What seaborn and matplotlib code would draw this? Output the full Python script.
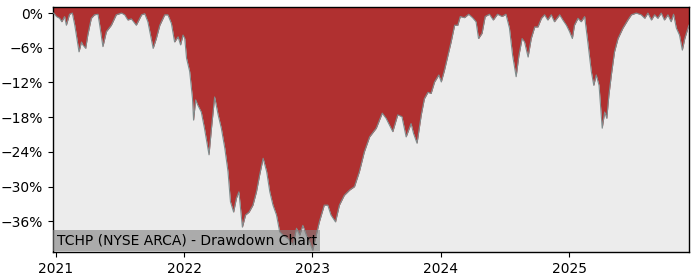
import matplotlib
matplotlib.use("Agg")
import matplotlib.pyplot as plt
import matplotlib.ticker as mticker
import seaborn as sns
import pandas as pd

dates = [
    "2020-12-24", "2020-12-26", "2021-01-03", "2021-01-12", "2021-01-18", "2021-01-26", "2021-01-31",
    "2021-02-09", "2021-02-17", "2021-02-24", "2021-03-08", "2021-03-15", "2021-03-19", "2021-03-27",
    "2021-04-02", "2021-04-12", "2021-04-21", "2021-05-01", "2021-05-06", "2021-05-15", "2021-05-25",
    "2021-06-08", "2021-06-22", "2021-07-07", "2021-07-16", "2021-07-25", "2021-08-04", "2021-08-18",
    "2021-09-02", "2021-09-11", "2021-09-20", "2021-10-05", "2021-10-14", "2021-10-24", "2021-11-07",
    "2021-11-16", "2021-11-26", "2021-12-05", "2021-12-15", "2021-12-22", "2021-12-29", "2022-01-03",
    "2022-01-08", "2022-01-17", "2022-01-25", "2022-01-28", "2022-02-03", "2022-02-09", "2022-02-19",
    "2022-02-28", "2022-03-13", "2022-03-20", "2022-03-29", "2022-04-08", "2022-04-17", "2022-04-27",
    "2022-05-06", "2022-05-13", "2022-05-22", "2022-05-30", "2022-06-06", "2022-06-16", "2022-06-25",
    "2022-07-05", "2022-07-16", "2022-07-26", "2022-08-04", "2022-08-14", "2022-08-24", "2022-09-02",
    "2022-09-11", "2022-09-21", "2022-09-30", "2022-10-10", "2022-10-24", "2022-11-07", "2022-11-17",
    "2022-11-26", "2022-12-05", "2022-12-15", "2022-12-24", "2023-01-02", "2023-01-12", "2023-01-21",
    "2023-02-04", "2023-02-14", "2023-02-23", "2023-03-08", "2023-03-19", "2023-04-02", "2023-04-17",
    "2023-05-01", "2023-05-15", "2023-05-29", "2023-06-13", "2023-07-02", "2023-07-19", "2023-07-30",
    "2023-08-09", "2023-08-18", "2023-09-01", "2023-09-13", "2023-09-25", "2023-10-09", "2023-10-16",
    "2023-10-26", "2023-11-07", "2023-11-16", "2023-11-26", "2023-12-05", "2023-12-15", "2023-12-27",
    "2024-01-03", "2024-01-12", "2024-01-22", "2024-01-31", "2024-02-10", "2024-02-19", "2024-02-26",
    "2024-03-09", "2024-03-21", "2024-04-01", "2024-04-11", "2024-04-18", "2024-04-28", "2024-05-07",
    "2024-05-19", "2024-05-30", "2024-06-11", "2024-06-24", "2024-07-05", "2024-07-15", "2024-07-24",
    "2024-08-03", "2024-08-11", "2024-08-20", "2024-08-27", "2024-09-06", "2024-09-15", "2024-09-25",
    "2024-10-04", "2024-10-14", "2024-10-23", "2024-11-01", "2024-11-11", "2024-11-20", "2024-12-05",
    "2024-12-14", "2024-12-24", "2025-01-02", "2025-01-10", "2025-01-16", "2025-01-26", "2025-02-04",
    "2025-02-14", "2025-02-23", "2025-03-05", "2025-03-12", "2025-03-19", "2025-03-27", "2025-03-31",
    "2025-04-05", "2025-04-12", "2025-04-18", "2025-04-24", "2025-05-01", "2025-05-10", "2025-05-20",
    "2025-06-03", "2025-06-17", "2025-06-27", "2025-07-11", "2025-07-25", "2025-08-04", "2025-08-13",
    "2025-08-23", "2025-09-01", "2025-09-10", "2025-09-20", "2025-09-29", "2025-10-09", "2025-10-18",
    "2025-10-25", "2025-11-02", "2025-11-11", "2025-11-19", "2025-11-26", "2025-12-05", "2025-12-08",
]

drawdown = [
    0.0, 0.0, -0.6, -0.9, -1.5, -0.6, -2.1,
    -0.2, 0.0, -2.1, -6.7, -5.0, -5.5, -6.1,
    -3.8, -0.9, -0.3, -0.2, -2.1, -5.8, -3.2,
    -2.1, -0.3, 0.0, -0.3, -1.2, -1.0, -2.1,
    -0.3, -0.1, -1.5, -6.1, -4.4, -2.1, -0.3,
    -0.3, -1.8, -5.0, -4.1, -5.5, -3.8, -4.4,
    -7.8, -10.1, -14.8, -18.5, -15.0, -15.9, -17.1,
    -19.9, -24.5, -19.9, -14.5, -17.6, -19.9, -23.4,
    -27.4, -32.6, -34.4, -32.0, -30.9, -37.0, -34.9,
    -34.4, -33.2, -30.9, -28.0, -25.1, -27.4, -30.9,
    -33.2, -34.9, -37.8, -38.4, -39.0, -40.1, -37.2,
    -38.4, -36.7, -38.4, -39.5, -41.0, -38.4, -36.1,
    -33.2, -33.2, -34.9, -36.1, -33.2, -31.5, -30.6,
    -30.0, -27.4, -24.0, -21.4, -19.9, -17.3, -18.2,
    -19.4, -20.5, -17.6, -17.9, -21.4, -19.1, -20.8,
    -22.5, -17.6, -14.8, -13.7, -13.9, -11.9, -10.7,
    -11.9, -9.9, -7.3, -5.0, -2.1, -2.1, -0.6,
    -0.8, -0.2, -0.8, -1.5, -4.4, -3.5, -0.6,
    -0.2, -1.2, -0.2, -0.6, -0.2, -2.6, -7.3,
    -11.0, -7.3, -4.4, -5.0, -7.6, -4.4, -2.4,
    -2.4, -0.9, -0.3, -1.2, -0.3, -1.5, -0.3,
    -1.2, -2.1, -3.2, -4.4, -2.1, -0.9, -1.5,
    -0.6, -5.0, -10.1, -12.5, -10.7, -12.5, -15.9,
    -19.9, -17.1, -18.2, -14.2, -10.7, -6.7, -4.4,
    -2.6, -1.2, -0.3, 0.0, -0.3, -0.9, 0.0,
    -1.2, -0.3, -0.9, 0.0, -1.2, -0.3, -1.5,
    -0.2, -2.6, -3.8, -6.4, -4.4, -2.6, -2.1,
]

y_ticks = [0, -6, -12, -18, -24, -30, -36]
title_text = "TCHP (NYSE ARCA) - Drawdown Chart"

df = pd.DataFrame({"date": pd.to_datetime(dates), "drawdown": drawdown})

fig = plt.figure(figsize=(7, 2.8), dpi=100)
ax = fig.add_axes([53 / 700, 1 - 252 / 280, 636 / 700, 245 / 280])
ax.set_facecolor("#ececec")

y_top, y_bottom = 1.05, -41.3
ax.fill_between(df["date"], df["drawdown"], y_top, color="#b03030", linewidth=0, zorder=2)
sns.lineplot(data=df, x="date", y="drawdown", ax=ax, color="#7f8c8d", linewidth=0.8, zorder=3)

ax.set_xlim(df["date"].iloc[0], df["date"].iloc[-1])
ax.set_ylim(y_bottom, y_top)
ax.set_yticks(y_ticks)
ax.yaxis.set_major_formatter(mticker.PercentFormatter(decimals=0))
ax.xaxis.set_major_locator(matplotlib.dates.YearLocator())
ax.xaxis.set_major_formatter(matplotlib.dates.DateFormatter("%Y"))
ax.set_xlabel("")
ax.set_ylabel("")
ax.tick_params(labelsize=10)
for s in ax.spines.values():
    s.set_color("black")
    s.set_linewidth(1.0)

ax.text(0.006, 0.017, title_text, transform=ax.transAxes, fontsize=10, ha="left", va="bottom",
        color="black", zorder=5,
        bbox=dict(boxstyle="square,pad=0.25", facecolor="#808080", alpha=0.6, edgecolor="none"))

fig.savefig("out.png", dpi=100)
